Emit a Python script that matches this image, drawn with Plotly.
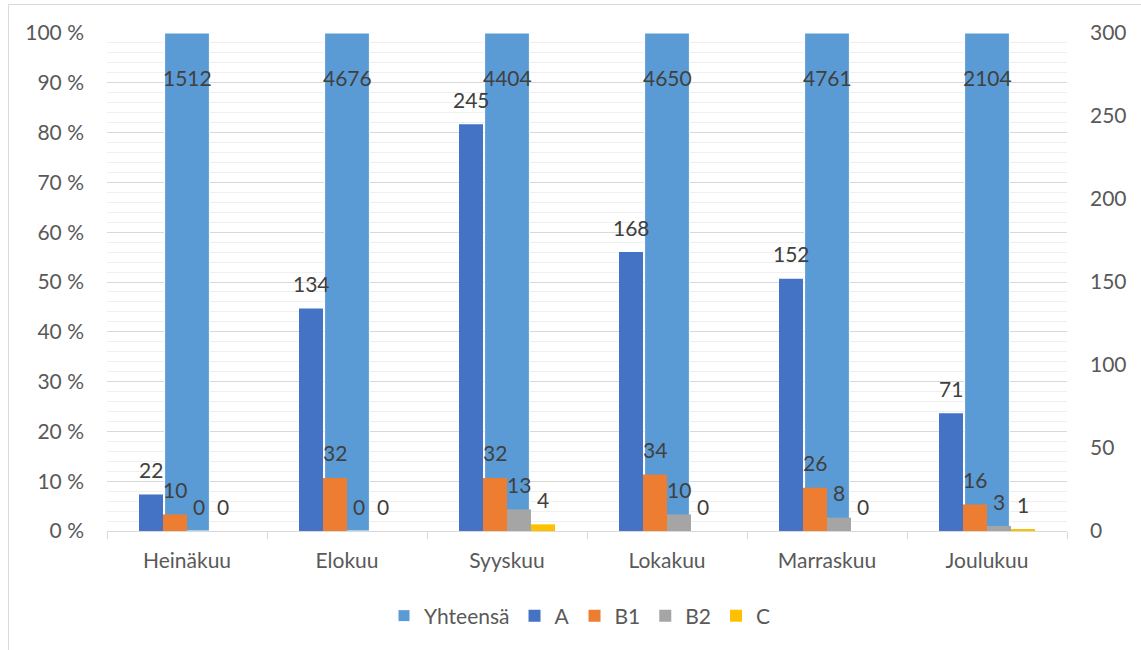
import plotly.graph_objects as go

# Monthly totals and per-class counts
months = ["Heinäkuu", "Elokuu", "Syyskuu", "Lokakuu", "Marraskuu", "Joulukuu"]
yhteensa = [1512, 4676, 4404, 4650, 4761, 2104]
a_vals = [22, 134, 245, 168, 152, 71]
b1_vals = [10, 32, 32, 34, 26, 16]
b2_vals = [0, 0, 13, 10, 8, 3]
c_vals = [0, 0, 4, 0, 0, 1]

pct_ticks = list(range(0, 101, 10))
pct_labels = [f"{p} %" for p in pct_ticks]
count_ticks = list(range(0, 301, 50))

FONT = "Lato"
FS = 21
LABEL_COLOR = "#404040"
AXIS_COLOR = "#595959"
GRID = "#d9d9d9"

W, H = 1141, 650
ML, MR, MT, MB = 107, 74, 33, 119
plot_w = W - ML - MR
plot_h = H - MT - MB
cat_px = plot_w / len(months)

# Totals drawn as a 100 % share on the primary axis
share = [t / t * 100 for t in yhteensa]

fig = go.Figure()
fig.add_trace(go.Bar(
    x=months, y=share, name="Yhteensä",
    marker=dict(color="#5B9BD5", line=dict(color="white", width=1)),
    width=0.28, offset=-0.14, yaxis="y", hoverinfo="skip",
))

series = [
    ("A", a_vals, "#4472C4"),
    ("B1", b1_vals, "#ED7D31"),
    ("B2", b2_vals, "#A5A5A5"),
    ("C", c_vals, "#FFC000"),
]
bw = 0.15
start = -0.3
annotations = []
for k, (name, vals, color) in enumerate(series):
    off = start + k * bw
    fig.add_trace(go.Bar(
        x=months, y=vals, name=name,
        marker=dict(color=color, line=dict(width=0)),
        width=bw, offset=off, yaxis="y2", hoverinfo="skip",
    ))
    for m, v in zip(months, vals):
        annotations.append(dict(
            x=m, y=v, xref="x", yref="y2", text=str(v), showarrow=False,
            xshift=(off + bw / 2) * cat_px, yshift=25, yanchor="middle",
            font=dict(family=FONT, size=FS, color=LABEL_COLOR),
        ))

for m, s, t in zip(months, share, yhteensa):
    annotations.append(dict(
        x=m, y=s, xref="x", yref="y", text=str(t), showarrow=False,
        yshift=-44, yanchor="middle",
        font=dict(family=FONT, size=FS, color=LABEL_COLOR),
    ))

fig.update_layout(
    width=W, height=H,
    margin=dict(l=ML, r=MR, t=MT, b=MB),
    paper_bgcolor="white", plot_bgcolor="white",
    barmode="overlay",
    font=dict(family=FONT, size=FS, color=AXIS_COLOR),
    xaxis=dict(
        type="category", showgrid=False, showline=True, linecolor=GRID,
        linewidth=1, ticks="outside", tickson="boundaries", ticklen=7,
        tickcolor=GRID, ticklabelstandoff=11,
        tickfont=dict(family=FONT, size=FS, color=AXIS_COLOR),
    ),
    yaxis=dict(
        range=[0, 100], tickvals=pct_ticks, ticktext=pct_labels,
        showgrid=True, gridcolor=GRID, gridwidth=1, zeroline=False,
        minor=dict(dtick=2, showgrid=True, gridcolor="#efefef", gridwidth=1),
        ticks="", ticklabelstandoff=22,
        tickfont=dict(family=FONT, size=FS, color=AXIS_COLOR),
    ),
    yaxis2=dict(
        range=[0, 300], tickvals=count_ticks, overlaying="y",
        side="right", showgrid=False, zeroline=False, ticks="",
        ticklabelstandoff=22,
        tickfont=dict(family=FONT, size=FS, color=AXIS_COLOR),
    ),
    legend=dict(
        orientation="h", x=(580 - ML) / plot_w, xanchor="center",
        y=-(616 - (H - MB)) / plot_h, yanchor="middle",
        font=dict(family=FONT, size=FS, color=AXIS_COLOR),
        itemwidth=30, traceorder="normal",
    ),
    annotations=annotations,
    shapes=[dict(
        type="rect", xref="paper", yref="paper", layer="below",
        x0=(8.5 - ML) / plot_w, x1=(W + 10 - ML) / plot_w,
        y0=-(H + 10 - (H - MB)) / plot_h, y1=(H - MB - 4.5) / plot_h,
        line=dict(color=GRID, width=1),
    )],
    showlegend=True,
)

fig.write_html("out.html")
